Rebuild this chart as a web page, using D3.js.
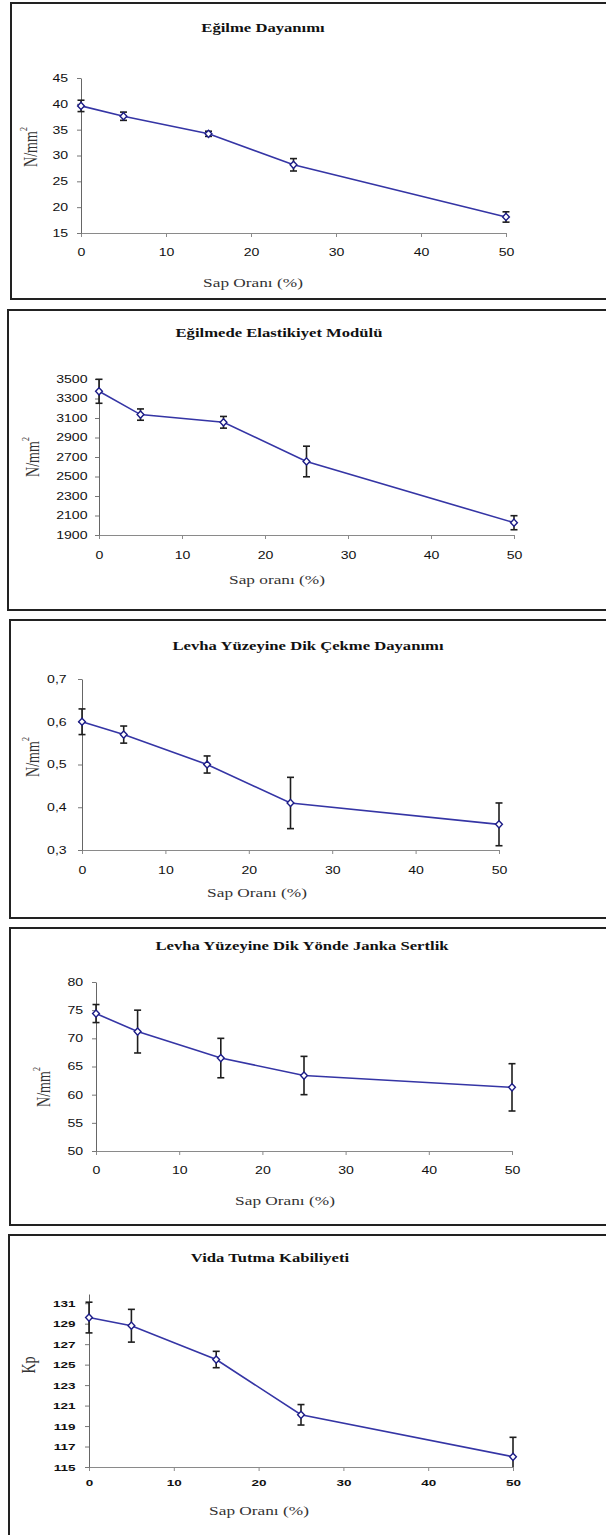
<!DOCTYPE html>
<html>
<head>
<meta charset="utf-8">
<script src="https://cdn.jsdelivr.net/npm/d3@7"></script>
<style>
  body { margin: 0; background: #fff; }
  svg { display: block; }
</style>
</head>
<body>
<script>
// sap orani (%) - same x for every panel
var sapOrani = [0, 5, 15, 25, 50];
var xTicks = [0, 10, 20, 30, 40, 50];

var egilmeMean = [39.6, 37.6, 34.2, 28.2, 18.1];
var egilmeErr = [1.1, 0.8, 0.5, 1.2, 1.0];
var egilmeTicks = [15, 20, 25, 30, 35, 40, 45];

var elastikMean = [3374, 3135, 3056, 2654, 2026];
var elastikErr = [123, 58, 60, 157, 72];
var elastikTicks = [1900, 2100, 2300, 2500, 2700, 2900, 3100, 3300, 3500];

var cekmeMean = [0.60, 0.57, 0.50, 0.41, 0.36];
var cekmeErr = [0.03, 0.02, 0.02, 0.06, 0.05];
var cekmeTicks = [0.3, 0.4, 0.5, 0.6, 0.7];

var jankaMean = [74.4, 71.2, 66.5, 63.4, 61.3];
var jankaErr = [1.6, 3.8, 3.5, 3.4, 4.2];
var jankaTicks = [50, 55, 60, 65, 70, 75, 80];

var vidaMean = [129.6, 128.8, 125.5, 120.1, 116.0];
var vidaErr = [1.5, 1.6, 0.8, 1.0, 1.9];
var vidaTicks = [115, 117, 119, 121, 123, 125, 127, 129, 131];

var sx = 1.28; // the scan is stretched sideways, so is the text

var panels = [
  { title: "Eğilme Dayanımı", xlab: "Sap Oranı (%)", ylab: "N/mm", sup: true,
    mean: egilmeMean, err: egilmeErr, ticks: egilmeTicks, dom: [15, 45], fmt: d3.format("d"),
    box: [11, 3, 299], plot: [81, 506, 78, 233], titleXY: [263, 28], xlabXY: [253, 282], ylabXY: [30, 147],
    tickGap: 20, yGap: 10 },
  { title: "Eğilmede Elastikiyet Modülü", xlab: "Sap oranı (%)", ylab: "N/mm", sup: true,
    mean: elastikMean, err: elastikErr, ticks: elastikTicks, dom: [1900, 3500], fmt: d3.format("d"),
    box: [8, 310, 610], plot: [99, 514, 379, 535], titleXY: [279, 333], xlabXY: [277, 579], ylabXY: [32, 457],
    tickGap: 21, yGap: 9 },
  { title: "Levha Yüzeyine Dik Çekme Dayanımı", xlab: "Sap Oranı (%)", ylab: "N/mm", sup: true,
    mean: cekmeMean, err: cekmeErr, ticks: cekmeTicks, dom: [0.3, 0.7], fmt: function(d) { return d3.format(".1f")(d).replace(".", ","); },
    box: [10, 620, 918], plot: [82, 499, 679, 850], titleXY: [308, 646], xlabXY: [257, 892], ylabXY: [32, 757],
    tickGap: 21, yGap: 12 },
  { title: "Levha Yüzeyine Dik Yönde Janka Sertlik", xlab: "Sap Oranı (%)", ylab: "N/mm", sup: true,
    mean: jankaMean, err: jankaErr, ticks: jankaTicks, dom: [50, 80], fmt: d3.format("d"),
    box: [10, 928, 1225], plot: [96, 512, 982, 1151], titleXY: [302, 946], xlabXY: [285, 1200], ylabXY: [43, 1087],
    tickGap: 20, yGap: 10 },
  { title: "Vida Tutma Kabiliyeti", xlab: "Sap Oranı (%)", ylab: "Kp", sup: false, small: true,
    mean: vidaMean, err: vidaErr, ticks: vidaTicks, dom: [115, 131.9], fmt: d3.format("d"),
    box: [9, 1235, 1600], plot: [89, 513, 1294, 1467], titleXY: [270, 1258], xlabXY: [259, 1510], ylabXY: [28, 1365],
    tickGap: 16, yGap: 9 }
];

var svg = d3.select("body").append("svg")
  .attr("width", 606).attr("height", 1535);

function stretchedText(g, x, y, txt, size, family, weight, fill) {
  return g.append("text")
    .attr("transform", "translate(" + x + "," + y + ") scale(" + sx + ",1)")
    .attr("text-anchor", "middle")
    .attr("dominant-baseline", "central")
    .style("font-family", family).style("font-size", size + "px")
    .style("font-weight", weight).attr("fill", fill)
    .text(txt);
}

panels.forEach(function(p) {
  var g = svg.append("g");

  g.append("rect")
    .attr("x", p.box[0]).attr("y", p.box[1])
    .attr("width", 700).attr("height", p.box[2] - p.box[1])
    .attr("fill", "#fff").attr("stroke", "#222").attr("stroke-width", 2);

  var x = d3.scaleLinear().domain([0, 50]).range([p.plot[0], p.plot[1]]);
  var y = d3.scaleLinear().domain(p.dom).range([p.plot[3], p.plot[2]]);

  var tickFont = p.small ? "9px" : "11px";
  var tickWeight = p.small ? "bold" : "normal";
  var tsx = p.small ? 1.5 : sx;

  // x axis
  var xa = g.append("g").attr("transform", "translate(0," + p.plot[3] + ")")
    .call(d3.axisBottom(x).tickValues(xTicks).tickSize(4).tickSizeOuter(0));
  xa.select(".domain").attr("stroke", "#8a8a8a");
  xa.selectAll(".tick line").attr("stroke", "#8a8a8a");
  xa.selectAll(".tick text")
    .attr("y", 0).attr("dy", null)
    .attr("transform", "translate(0," + p.tickGap + ") scale(" + tsx + ",1)")
    .attr("dominant-baseline", "central")
    .style("font-family", "Liberation Sans, Arial, sans-serif")
    .style("font-size", tickFont).style("font-weight", tickWeight).attr("fill", "#111");

  // y axis
  var ya = g.append("g").attr("transform", "translate(" + p.plot[0] + ",0)")
    .call(d3.axisLeft(y).tickValues(p.ticks).tickFormat(p.fmt).tickSize(4).tickSizeOuter(0));
  ya.select(".domain").attr("stroke", "#666");
  ya.selectAll(".tick line").attr("stroke", "#777");
  ya.selectAll(".tick text")
    .attr("x", -p.yGap).attr("dy", null)
    .attr("transform", "scale(" + tsx + ",1)")
    .attr("dominant-baseline", "central")
    .style("font-family", "Liberation Sans, Arial, sans-serif")
    .style("font-size", tickFont).style("font-weight", tickWeight).attr("fill", "#111");

  var pts = sapOrani.map(function(v, i) { return { x: v, m: p.mean[i], e: p.err[i] }; });

  // error bars, clipped to the plot like in the original
  var lo = p.dom[0];
  var eb = g.append("g").attr("stroke", "#1e1e1e").attr("stroke-width", 1.6);
  pts.forEach(function(d) {
    var top = y(d.m + d.e), bot = y(Math.max(lo, d.m - d.e));
    eb.append("line").attr("x1", x(d.x)).attr("x2", x(d.x)).attr("y1", top).attr("y2", bot);
    eb.append("line").attr("x1", x(d.x) - 3.5).attr("x2", x(d.x) + 3.5).attr("y1", top).attr("y2", top);
    if (d.m - d.e >= lo) {
      eb.append("line").attr("x1", x(d.x) - 3.5).attr("x2", x(d.x) + 3.5).attr("y1", bot).attr("y2", bot);
    }
  });

  g.append("path").datum(pts)
    .attr("fill", "none").attr("stroke", "#3535a5").attr("stroke-width", 1.6)
    .attr("d", d3.line().x(function(d) { return x(d.x); }).y(function(d) { return y(d.m); }));

  g.selectAll("path.mk").data(pts).enter().append("path")
    .attr("class", "mk")
    .attr("transform", function(d) { return "translate(" + x(d.x) + "," + y(d.m) + ")"; })
    .attr("d", "M0,-3.6L3.4,0L0,3.6L-3.4,0Z")
    .attr("fill", "#fff").attr("stroke", "#1c1c86").attr("stroke-width", 1.4);

  // labels
  stretchedText(g, p.titleXY[0], p.titleXY[1], p.title, 13, "Liberation Serif, Times New Roman, serif", "bold", "#111");
  stretchedText(g, p.xlabXY[0], p.xlabXY[1], p.xlab, 13.5, "Liberation Serif, Times New Roman, serif", "normal", "#333");

  // rotated label: the sideways stretch is across the glyphs here
  var yl = g.append("text")
    .attr("transform", "translate(" + p.ylabXY[0] + "," + p.ylabXY[1] + ") rotate(-90) scale(1," + sx + ")")
    .attr("text-anchor", "middle").attr("dominant-baseline", "central")
    .style("font-family", "Liberation Serif, Times New Roman, serif")
    .style("font-size", "14px").attr("fill", "#333");
  yl.append("tspan").text(p.ylab);
  if (p.sup) {
    yl.append("tspan").attr("dy", -5).style("font-size", "8px").text("2");
  }
});
</script>
</body>
</html>
